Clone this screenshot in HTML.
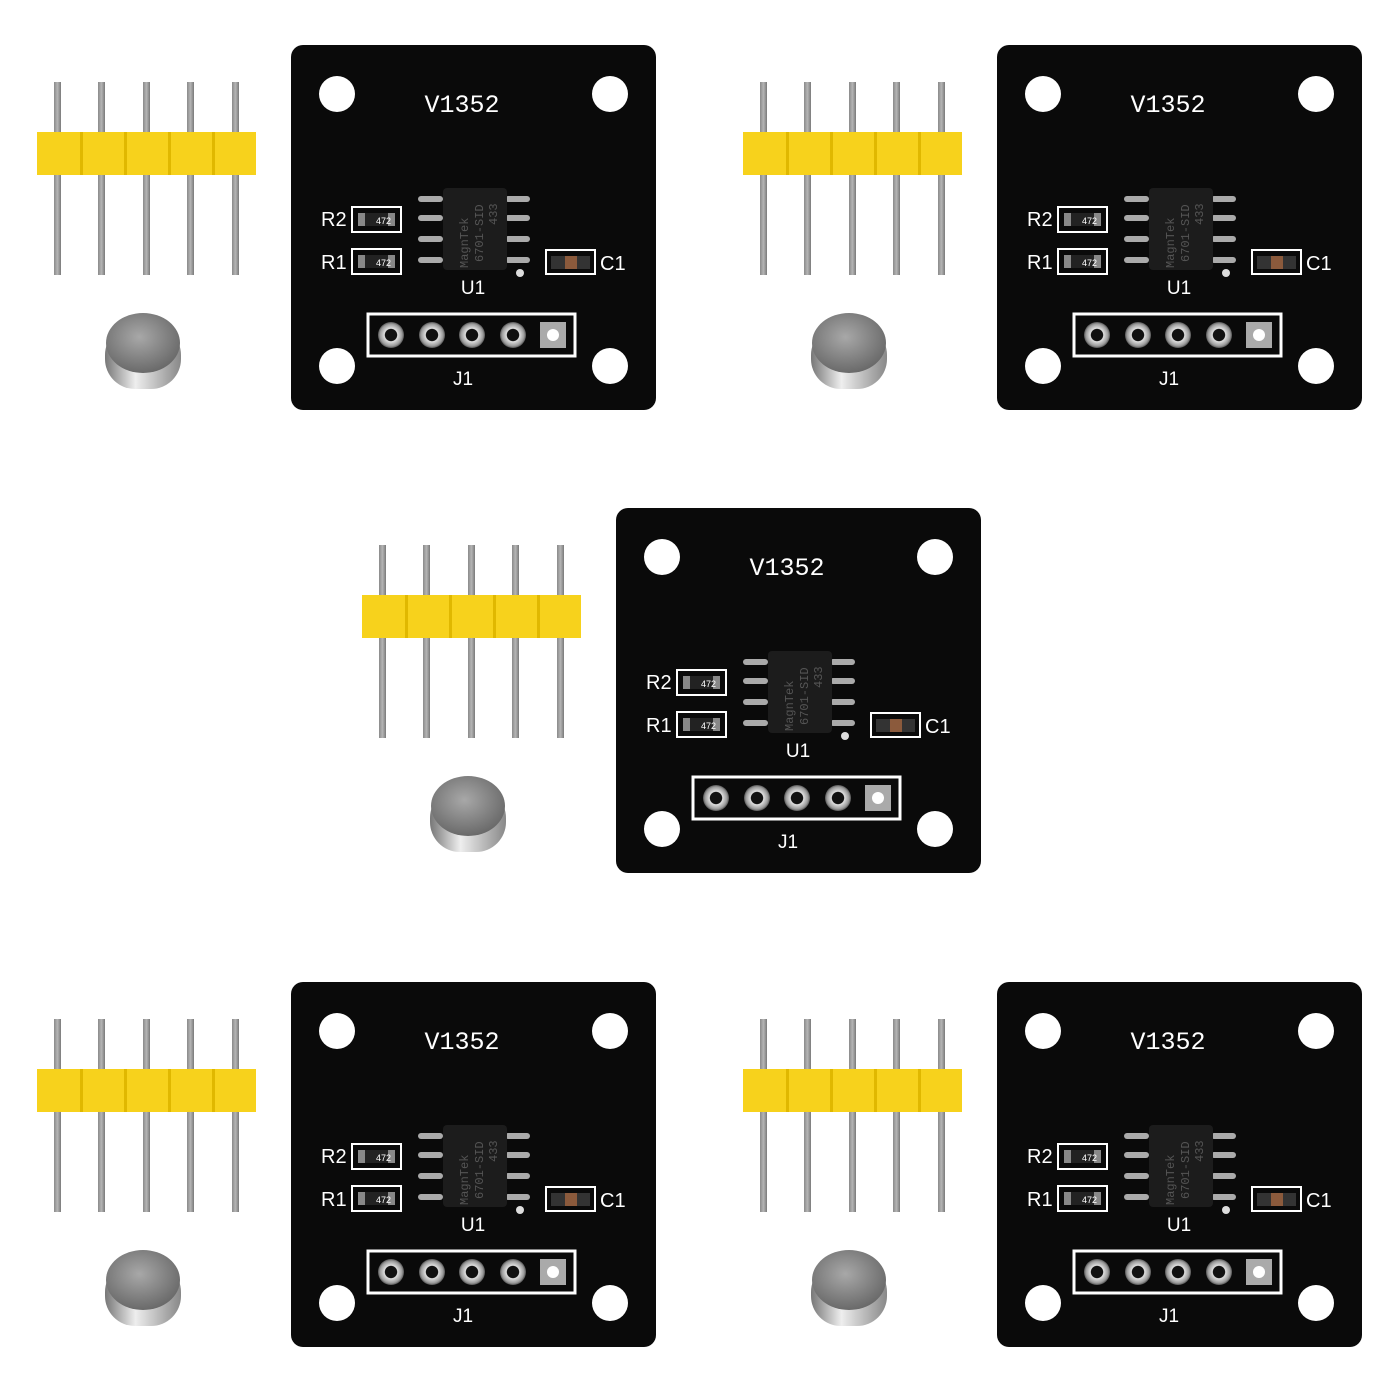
<!DOCTYPE html>
<html><head><meta charset="utf-8"><style>html,body{margin:0;padding:0;background:#fff}svg{display:block}</style></head><body>
<svg width="1400" height="1400" viewBox="0 0 1400 1400" xmlns="http://www.w3.org/2000/svg">
<defs>
<linearGradient id="pin" x1="0" x2="1"><stop offset="0" stop-color="#8a8a8a"/><stop offset=".5" stop-color="#b5b5b5"/><stop offset="1" stop-color="#7a7a7a"/></linearGradient>
<radialGradient id="mag" cx=".45" cy=".4" r=".6"><stop offset="0" stop-color="#a8a8a8"/><stop offset="1" stop-color="#6a6a6a"/></radialGradient>
<linearGradient id="magside" x1="0" x2="1"><stop offset="0" stop-color="#777"/><stop offset=".4" stop-color="#eee"/><stop offset="1" stop-color="#888"/></linearGradient>
<radialGradient id="ring"><stop offset=".45" stop-color="#111"/><stop offset=".5" stop-color="#e0e0e0"/><stop offset=".85" stop-color="#9a9a9a"/><stop offset="1" stop-color="#555"/></radialGradient>
</defs>
<style>
.pl{font-family:"Liberation Sans",sans-serif;fill:#fff}
.mono{font-family:"Liberation Mono",monospace;fill:#fff}
</style>

<g transform="translate(0,0)">
 <g fill="url(#pin)"><rect x="54" y="82" width="7" height="193"/><rect x="98" y="82" width="7" height="193"/><rect x="143" y="82" width="7" height="193"/><rect x="187" y="82" width="7" height="193"/><rect x="232" y="82" width="7" height="193"/></g>
 <rect x="37" y="132" width="219" height="43" fill="#f7d21c"/>
 <g fill="#e0b800"><rect x="80" y="132" width="3" height="43"/><rect x="124" y="132" width="3" height="43"/><rect x="168" y="132" width="3" height="43"/><rect x="212" y="132" width="3" height="43"/></g>
 <rect x="105" y="325" width="76" height="64" rx="30" fill="url(#magside)"/>
 <ellipse cx="143" cy="343" rx="37" ry="30" fill="url(#mag)"/>
 <rect x="291" y="45" width="365" height="365" rx="12" fill="#0a0a0a"/>
 <g fill="#fff"><circle cx="337" cy="94" r="18"/><circle cx="610" cy="94" r="18"/><circle cx="337" cy="366" r="18"/><circle cx="610" cy="366" r="18"/></g>
 <text x="462" y="112" class="mono" font-size="25" text-anchor="middle">V1352</text>
 <g fill="#aaa"><rect x="418" y="196" width="25" height="6" rx="3"/><rect x="418" y="215" width="25" height="6" rx="3"/><rect x="418" y="236" width="25" height="6" rx="3"/><rect x="418" y="257" width="25" height="6" rx="3"/><rect x="505" y="196" width="25" height="6" rx="3"/><rect x="505" y="215" width="25" height="6" rx="3"/><rect x="505" y="236" width="25" height="6" rx="3"/><rect x="505" y="257" width="25" height="6" rx="3"/></g>
 <rect x="443" y="188" width="64" height="82" rx="4" fill="#1c1c1c"/>
 <text transform="translate(468,268) rotate(-90)" font-family="Liberation Mono,monospace" font-size="12" fill="#555">MagnTek</text>
 <text transform="translate(483,262) rotate(-90)" font-family="Liberation Mono,monospace" font-size="12" fill="#555">6701-SID</text>
 <text transform="translate(497,225) rotate(-90)" font-family="Liberation Mono,monospace" font-size="12" fill="#555">433</text>
 <circle cx="520" cy="273" r="4" fill="#ddd"/>
 <rect x="352" y="207" width="49" height="25" fill="none" stroke="#fff" stroke-width="2"/>
 <rect x="358" y="213" width="37" height="13" fill="#222"/><rect x="358" y="213" width="7" height="13" fill="#888"/><rect x="388" y="213" width="7" height="13" fill="#888"/>
 <text x="376" y="224" class="pl" font-size="9">472</text>
 <rect x="352" y="249" width="49" height="25" fill="none" stroke="#fff" stroke-width="2"/>
 <rect x="358" y="255" width="37" height="13" fill="#222"/><rect x="358" y="255" width="7" height="13" fill="#888"/><rect x="388" y="255" width="7" height="13" fill="#888"/>
 <text x="376" y="266" class="pl" font-size="9">472</text>
 <text x="321" y="226" class="pl" font-size="20">R2</text>
 <text x="321" y="269" class="pl" font-size="20">R1</text>
 <rect x="546" y="250" width="49" height="24" fill="none" stroke="#fff" stroke-width="2"/>
 <rect x="551" y="256" width="39" height="13" fill="#333"/><rect x="565" y="256" width="12" height="13" fill="#8b5a3c"/>
 <text x="600" y="270" class="pl" font-size="20">C1</text>
 <text x="473" y="294" class="pl" font-size="19" text-anchor="middle">U1</text>
 <rect x="368" y="314" width="207" height="42" fill="none" stroke="#fff" stroke-width="3"/>
 <g fill="url(#ring)"><circle cx="391" cy="335" r="13"/><circle cx="432" cy="335" r="13"/><circle cx="472" cy="335" r="13"/><circle cx="513" cy="335" r="13"/></g>
 <rect x="540" y="322" width="26" height="26" fill="#aaa"/><circle cx="553" cy="335" r="6" fill="#fff"/>
 <text x="463" y="385" class="pl" font-size="19" text-anchor="middle">J1</text>
</g>

<g transform="translate(706,0)">
 <g fill="url(#pin)"><rect x="54" y="82" width="7" height="193"/><rect x="98" y="82" width="7" height="193"/><rect x="143" y="82" width="7" height="193"/><rect x="187" y="82" width="7" height="193"/><rect x="232" y="82" width="7" height="193"/></g>
 <rect x="37" y="132" width="219" height="43" fill="#f7d21c"/>
 <g fill="#e0b800"><rect x="80" y="132" width="3" height="43"/><rect x="124" y="132" width="3" height="43"/><rect x="168" y="132" width="3" height="43"/><rect x="212" y="132" width="3" height="43"/></g>
 <rect x="105" y="325" width="76" height="64" rx="30" fill="url(#magside)"/>
 <ellipse cx="143" cy="343" rx="37" ry="30" fill="url(#mag)"/>
 <rect x="291" y="45" width="365" height="365" rx="12" fill="#0a0a0a"/>
 <g fill="#fff"><circle cx="337" cy="94" r="18"/><circle cx="610" cy="94" r="18"/><circle cx="337" cy="366" r="18"/><circle cx="610" cy="366" r="18"/></g>
 <text x="462" y="112" class="mono" font-size="25" text-anchor="middle">V1352</text>
 <g fill="#aaa"><rect x="418" y="196" width="25" height="6" rx="3"/><rect x="418" y="215" width="25" height="6" rx="3"/><rect x="418" y="236" width="25" height="6" rx="3"/><rect x="418" y="257" width="25" height="6" rx="3"/><rect x="505" y="196" width="25" height="6" rx="3"/><rect x="505" y="215" width="25" height="6" rx="3"/><rect x="505" y="236" width="25" height="6" rx="3"/><rect x="505" y="257" width="25" height="6" rx="3"/></g>
 <rect x="443" y="188" width="64" height="82" rx="4" fill="#1c1c1c"/>
 <text transform="translate(468,268) rotate(-90)" font-family="Liberation Mono,monospace" font-size="12" fill="#555">MagnTek</text>
 <text transform="translate(483,262) rotate(-90)" font-family="Liberation Mono,monospace" font-size="12" fill="#555">6701-SID</text>
 <text transform="translate(497,225) rotate(-90)" font-family="Liberation Mono,monospace" font-size="12" fill="#555">433</text>
 <circle cx="520" cy="273" r="4" fill="#ddd"/>
 <rect x="352" y="207" width="49" height="25" fill="none" stroke="#fff" stroke-width="2"/>
 <rect x="358" y="213" width="37" height="13" fill="#222"/><rect x="358" y="213" width="7" height="13" fill="#888"/><rect x="388" y="213" width="7" height="13" fill="#888"/>
 <text x="376" y="224" class="pl" font-size="9">472</text>
 <rect x="352" y="249" width="49" height="25" fill="none" stroke="#fff" stroke-width="2"/>
 <rect x="358" y="255" width="37" height="13" fill="#222"/><rect x="358" y="255" width="7" height="13" fill="#888"/><rect x="388" y="255" width="7" height="13" fill="#888"/>
 <text x="376" y="266" class="pl" font-size="9">472</text>
 <text x="321" y="226" class="pl" font-size="20">R2</text>
 <text x="321" y="269" class="pl" font-size="20">R1</text>
 <rect x="546" y="250" width="49" height="24" fill="none" stroke="#fff" stroke-width="2"/>
 <rect x="551" y="256" width="39" height="13" fill="#333"/><rect x="565" y="256" width="12" height="13" fill="#8b5a3c"/>
 <text x="600" y="270" class="pl" font-size="20">C1</text>
 <text x="473" y="294" class="pl" font-size="19" text-anchor="middle">U1</text>
 <rect x="368" y="314" width="207" height="42" fill="none" stroke="#fff" stroke-width="3"/>
 <g fill="url(#ring)"><circle cx="391" cy="335" r="13"/><circle cx="432" cy="335" r="13"/><circle cx="472" cy="335" r="13"/><circle cx="513" cy="335" r="13"/></g>
 <rect x="540" y="322" width="26" height="26" fill="#aaa"/><circle cx="553" cy="335" r="6" fill="#fff"/>
 <text x="463" y="385" class="pl" font-size="19" text-anchor="middle">J1</text>
</g>

<g transform="translate(325,463)">
 <g fill="url(#pin)"><rect x="54" y="82" width="7" height="193"/><rect x="98" y="82" width="7" height="193"/><rect x="143" y="82" width="7" height="193"/><rect x="187" y="82" width="7" height="193"/><rect x="232" y="82" width="7" height="193"/></g>
 <rect x="37" y="132" width="219" height="43" fill="#f7d21c"/>
 <g fill="#e0b800"><rect x="80" y="132" width="3" height="43"/><rect x="124" y="132" width="3" height="43"/><rect x="168" y="132" width="3" height="43"/><rect x="212" y="132" width="3" height="43"/></g>
 <rect x="105" y="325" width="76" height="64" rx="30" fill="url(#magside)"/>
 <ellipse cx="143" cy="343" rx="37" ry="30" fill="url(#mag)"/>
 <rect x="291" y="45" width="365" height="365" rx="12" fill="#0a0a0a"/>
 <g fill="#fff"><circle cx="337" cy="94" r="18"/><circle cx="610" cy="94" r="18"/><circle cx="337" cy="366" r="18"/><circle cx="610" cy="366" r="18"/></g>
 <text x="462" y="112" class="mono" font-size="25" text-anchor="middle">V1352</text>
 <g fill="#aaa"><rect x="418" y="196" width="25" height="6" rx="3"/><rect x="418" y="215" width="25" height="6" rx="3"/><rect x="418" y="236" width="25" height="6" rx="3"/><rect x="418" y="257" width="25" height="6" rx="3"/><rect x="505" y="196" width="25" height="6" rx="3"/><rect x="505" y="215" width="25" height="6" rx="3"/><rect x="505" y="236" width="25" height="6" rx="3"/><rect x="505" y="257" width="25" height="6" rx="3"/></g>
 <rect x="443" y="188" width="64" height="82" rx="4" fill="#1c1c1c"/>
 <text transform="translate(468,268) rotate(-90)" font-family="Liberation Mono,monospace" font-size="12" fill="#555">MagnTek</text>
 <text transform="translate(483,262) rotate(-90)" font-family="Liberation Mono,monospace" font-size="12" fill="#555">6701-SID</text>
 <text transform="translate(497,225) rotate(-90)" font-family="Liberation Mono,monospace" font-size="12" fill="#555">433</text>
 <circle cx="520" cy="273" r="4" fill="#ddd"/>
 <rect x="352" y="207" width="49" height="25" fill="none" stroke="#fff" stroke-width="2"/>
 <rect x="358" y="213" width="37" height="13" fill="#222"/><rect x="358" y="213" width="7" height="13" fill="#888"/><rect x="388" y="213" width="7" height="13" fill="#888"/>
 <text x="376" y="224" class="pl" font-size="9">472</text>
 <rect x="352" y="249" width="49" height="25" fill="none" stroke="#fff" stroke-width="2"/>
 <rect x="358" y="255" width="37" height="13" fill="#222"/><rect x="358" y="255" width="7" height="13" fill="#888"/><rect x="388" y="255" width="7" height="13" fill="#888"/>
 <text x="376" y="266" class="pl" font-size="9">472</text>
 <text x="321" y="226" class="pl" font-size="20">R2</text>
 <text x="321" y="269" class="pl" font-size="20">R1</text>
 <rect x="546" y="250" width="49" height="24" fill="none" stroke="#fff" stroke-width="2"/>
 <rect x="551" y="256" width="39" height="13" fill="#333"/><rect x="565" y="256" width="12" height="13" fill="#8b5a3c"/>
 <text x="600" y="270" class="pl" font-size="20">C1</text>
 <text x="473" y="294" class="pl" font-size="19" text-anchor="middle">U1</text>
 <rect x="368" y="314" width="207" height="42" fill="none" stroke="#fff" stroke-width="3"/>
 <g fill="url(#ring)"><circle cx="391" cy="335" r="13"/><circle cx="432" cy="335" r="13"/><circle cx="472" cy="335" r="13"/><circle cx="513" cy="335" r="13"/></g>
 <rect x="540" y="322" width="26" height="26" fill="#aaa"/><circle cx="553" cy="335" r="6" fill="#fff"/>
 <text x="463" y="385" class="pl" font-size="19" text-anchor="middle">J1</text>
</g>

<g transform="translate(0,937)">
 <g fill="url(#pin)"><rect x="54" y="82" width="7" height="193"/><rect x="98" y="82" width="7" height="193"/><rect x="143" y="82" width="7" height="193"/><rect x="187" y="82" width="7" height="193"/><rect x="232" y="82" width="7" height="193"/></g>
 <rect x="37" y="132" width="219" height="43" fill="#f7d21c"/>
 <g fill="#e0b800"><rect x="80" y="132" width="3" height="43"/><rect x="124" y="132" width="3" height="43"/><rect x="168" y="132" width="3" height="43"/><rect x="212" y="132" width="3" height="43"/></g>
 <rect x="105" y="325" width="76" height="64" rx="30" fill="url(#magside)"/>
 <ellipse cx="143" cy="343" rx="37" ry="30" fill="url(#mag)"/>
 <rect x="291" y="45" width="365" height="365" rx="12" fill="#0a0a0a"/>
 <g fill="#fff"><circle cx="337" cy="94" r="18"/><circle cx="610" cy="94" r="18"/><circle cx="337" cy="366" r="18"/><circle cx="610" cy="366" r="18"/></g>
 <text x="462" y="112" class="mono" font-size="25" text-anchor="middle">V1352</text>
 <g fill="#aaa"><rect x="418" y="196" width="25" height="6" rx="3"/><rect x="418" y="215" width="25" height="6" rx="3"/><rect x="418" y="236" width="25" height="6" rx="3"/><rect x="418" y="257" width="25" height="6" rx="3"/><rect x="505" y="196" width="25" height="6" rx="3"/><rect x="505" y="215" width="25" height="6" rx="3"/><rect x="505" y="236" width="25" height="6" rx="3"/><rect x="505" y="257" width="25" height="6" rx="3"/></g>
 <rect x="443" y="188" width="64" height="82" rx="4" fill="#1c1c1c"/>
 <text transform="translate(468,268) rotate(-90)" font-family="Liberation Mono,monospace" font-size="12" fill="#555">MagnTek</text>
 <text transform="translate(483,262) rotate(-90)" font-family="Liberation Mono,monospace" font-size="12" fill="#555">6701-SID</text>
 <text transform="translate(497,225) rotate(-90)" font-family="Liberation Mono,monospace" font-size="12" fill="#555">433</text>
 <circle cx="520" cy="273" r="4" fill="#ddd"/>
 <rect x="352" y="207" width="49" height="25" fill="none" stroke="#fff" stroke-width="2"/>
 <rect x="358" y="213" width="37" height="13" fill="#222"/><rect x="358" y="213" width="7" height="13" fill="#888"/><rect x="388" y="213" width="7" height="13" fill="#888"/>
 <text x="376" y="224" class="pl" font-size="9">472</text>
 <rect x="352" y="249" width="49" height="25" fill="none" stroke="#fff" stroke-width="2"/>
 <rect x="358" y="255" width="37" height="13" fill="#222"/><rect x="358" y="255" width="7" height="13" fill="#888"/><rect x="388" y="255" width="7" height="13" fill="#888"/>
 <text x="376" y="266" class="pl" font-size="9">472</text>
 <text x="321" y="226" class="pl" font-size="20">R2</text>
 <text x="321" y="269" class="pl" font-size="20">R1</text>
 <rect x="546" y="250" width="49" height="24" fill="none" stroke="#fff" stroke-width="2"/>
 <rect x="551" y="256" width="39" height="13" fill="#333"/><rect x="565" y="256" width="12" height="13" fill="#8b5a3c"/>
 <text x="600" y="270" class="pl" font-size="20">C1</text>
 <text x="473" y="294" class="pl" font-size="19" text-anchor="middle">U1</text>
 <rect x="368" y="314" width="207" height="42" fill="none" stroke="#fff" stroke-width="3"/>
 <g fill="url(#ring)"><circle cx="391" cy="335" r="13"/><circle cx="432" cy="335" r="13"/><circle cx="472" cy="335" r="13"/><circle cx="513" cy="335" r="13"/></g>
 <rect x="540" y="322" width="26" height="26" fill="#aaa"/><circle cx="553" cy="335" r="6" fill="#fff"/>
 <text x="463" y="385" class="pl" font-size="19" text-anchor="middle">J1</text>
</g>

<g transform="translate(706,937)">
 <g fill="url(#pin)"><rect x="54" y="82" width="7" height="193"/><rect x="98" y="82" width="7" height="193"/><rect x="143" y="82" width="7" height="193"/><rect x="187" y="82" width="7" height="193"/><rect x="232" y="82" width="7" height="193"/></g>
 <rect x="37" y="132" width="219" height="43" fill="#f7d21c"/>
 <g fill="#e0b800"><rect x="80" y="132" width="3" height="43"/><rect x="124" y="132" width="3" height="43"/><rect x="168" y="132" width="3" height="43"/><rect x="212" y="132" width="3" height="43"/></g>
 <rect x="105" y="325" width="76" height="64" rx="30" fill="url(#magside)"/>
 <ellipse cx="143" cy="343" rx="37" ry="30" fill="url(#mag)"/>
 <rect x="291" y="45" width="365" height="365" rx="12" fill="#0a0a0a"/>
 <g fill="#fff"><circle cx="337" cy="94" r="18"/><circle cx="610" cy="94" r="18"/><circle cx="337" cy="366" r="18"/><circle cx="610" cy="366" r="18"/></g>
 <text x="462" y="112" class="mono" font-size="25" text-anchor="middle">V1352</text>
 <g fill="#aaa"><rect x="418" y="196" width="25" height="6" rx="3"/><rect x="418" y="215" width="25" height="6" rx="3"/><rect x="418" y="236" width="25" height="6" rx="3"/><rect x="418" y="257" width="25" height="6" rx="3"/><rect x="505" y="196" width="25" height="6" rx="3"/><rect x="505" y="215" width="25" height="6" rx="3"/><rect x="505" y="236" width="25" height="6" rx="3"/><rect x="505" y="257" width="25" height="6" rx="3"/></g>
 <rect x="443" y="188" width="64" height="82" rx="4" fill="#1c1c1c"/>
 <text transform="translate(468,268) rotate(-90)" font-family="Liberation Mono,monospace" font-size="12" fill="#555">MagnTek</text>
 <text transform="translate(483,262) rotate(-90)" font-family="Liberation Mono,monospace" font-size="12" fill="#555">6701-SID</text>
 <text transform="translate(497,225) rotate(-90)" font-family="Liberation Mono,monospace" font-size="12" fill="#555">433</text>
 <circle cx="520" cy="273" r="4" fill="#ddd"/>
 <rect x="352" y="207" width="49" height="25" fill="none" stroke="#fff" stroke-width="2"/>
 <rect x="358" y="213" width="37" height="13" fill="#222"/><rect x="358" y="213" width="7" height="13" fill="#888"/><rect x="388" y="213" width="7" height="13" fill="#888"/>
 <text x="376" y="224" class="pl" font-size="9">472</text>
 <rect x="352" y="249" width="49" height="25" fill="none" stroke="#fff" stroke-width="2"/>
 <rect x="358" y="255" width="37" height="13" fill="#222"/><rect x="358" y="255" width="7" height="13" fill="#888"/><rect x="388" y="255" width="7" height="13" fill="#888"/>
 <text x="376" y="266" class="pl" font-size="9">472</text>
 <text x="321" y="226" class="pl" font-size="20">R2</text>
 <text x="321" y="269" class="pl" font-size="20">R1</text>
 <rect x="546" y="250" width="49" height="24" fill="none" stroke="#fff" stroke-width="2"/>
 <rect x="551" y="256" width="39" height="13" fill="#333"/><rect x="565" y="256" width="12" height="13" fill="#8b5a3c"/>
 <text x="600" y="270" class="pl" font-size="20">C1</text>
 <text x="473" y="294" class="pl" font-size="19" text-anchor="middle">U1</text>
 <rect x="368" y="314" width="207" height="42" fill="none" stroke="#fff" stroke-width="3"/>
 <g fill="url(#ring)"><circle cx="391" cy="335" r="13"/><circle cx="432" cy="335" r="13"/><circle cx="472" cy="335" r="13"/><circle cx="513" cy="335" r="13"/></g>
 <rect x="540" y="322" width="26" height="26" fill="#aaa"/><circle cx="553" cy="335" r="6" fill="#fff"/>
 <text x="463" y="385" class="pl" font-size="19" text-anchor="middle">J1</text>
</g>
</svg>
</body></html>
